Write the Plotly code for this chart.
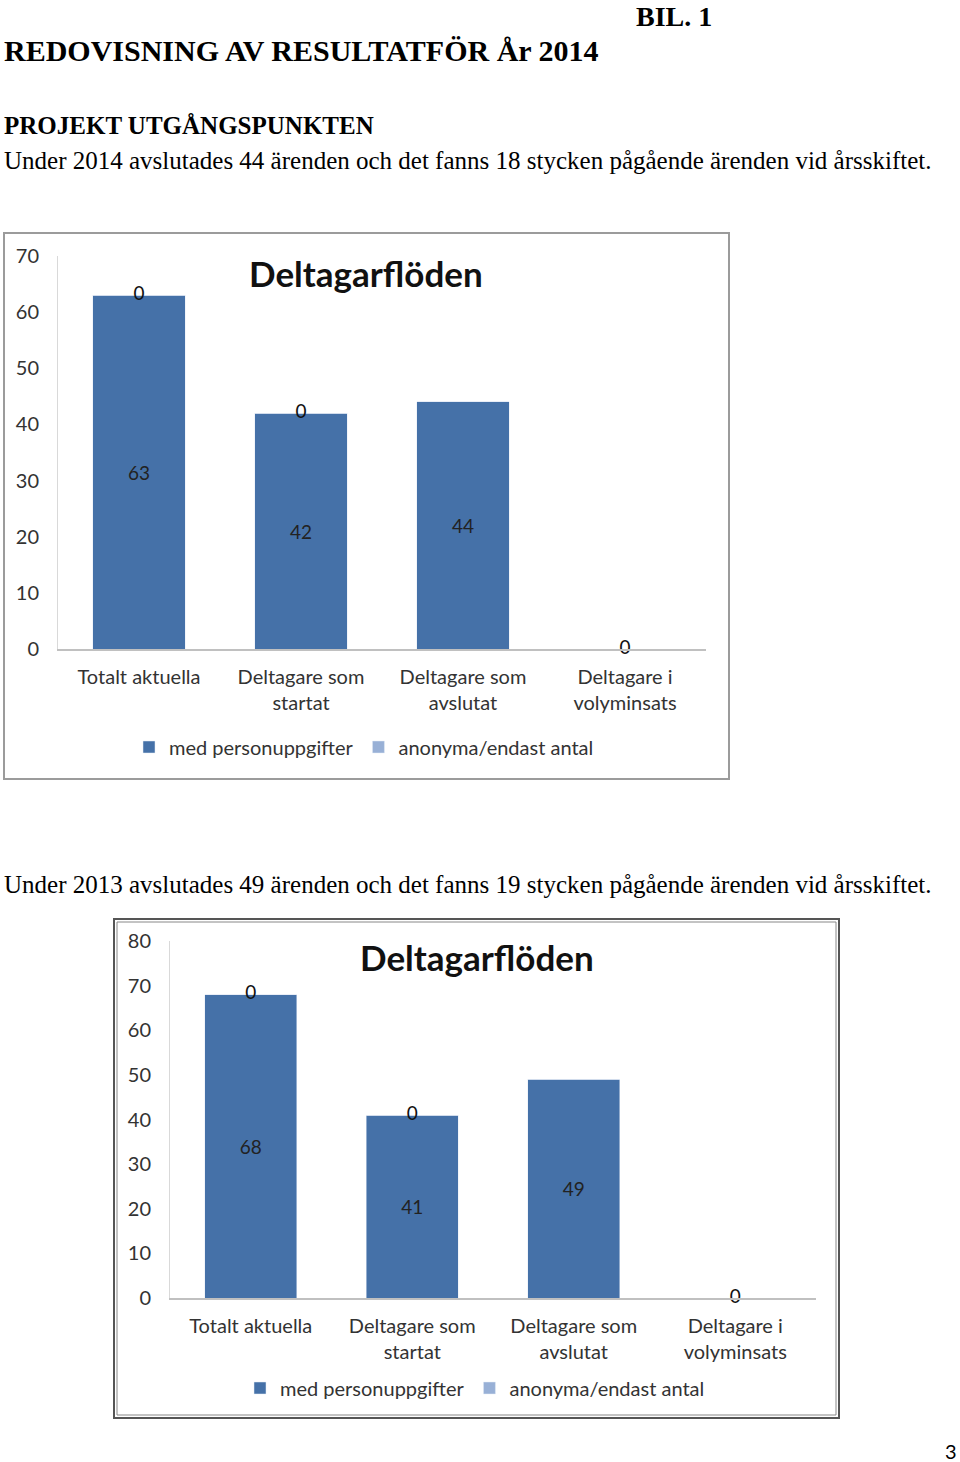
import plotly.graph_objects as go

W, H = 960, 1462

categories = ["Totalt aktuella", "Deltagare som<br>startat", "Deltagare som<br>avslutat", "Deltagare i<br>volyminsats"]
series_names = ["med personuppgifter", "anonyma/endast antal"]

# 2014
med_2014 = [63, 42, 44, 0]
anon_2014 = [0, 0, 0, 0]
med_text_2014 = ["63", "42", "44", ""]
anon_text_2014 = ["0", "0", "", "0"]

# 2013
med_2013 = [68, 41, 49, 0]
anon_2013 = [0, 0, 0, 0]
med_text_2013 = ["68", "41", "49", ""]
anon_text_2013 = ["0", "0", "", "0"]

DARK = "#4571a8"
LIGHT = "#98b0d6"
CHART_FONT = "Lato"
SERIF = "Liberation Serif"


def py(p):
    # pixel row from the top -> paper y
    return 1 - p / H


def px_x(p):
    return p / W


fig = go.Figure()


def add_chart(med, anon, med_text, anon_text, xa, ya, legend):
    fig.add_trace(go.Bar(x=categories, y=med, name=series_names[0], marker_color=DARK,
                         width=0.57, text=med_text, textposition="inside",
                         insidetextanchor="middle", textangle=0,
                         textfont=dict(family=CHART_FONT, size=19, color="#222"),
                         xaxis=xa, yaxis=ya, legend=legend))
    fig.add_trace(go.Bar(x=categories, y=anon, name=series_names[1], marker_color=LIGHT,
                         width=0.57, xaxis=xa, yaxis=ya, legend=legend))
    tops = [m + a for m, a in zip(med, anon)]
    fig.add_trace(go.Scatter(x=categories, y=tops, mode="text", text=anon_text,
                             textposition="middle center", cliponaxis=False,
                             textfont=dict(family=CHART_FONT, size=19, color="#111"),
                             showlegend=False, hoverinfo="skip", xaxis=xa, yaxis=ya))


add_chart(med_2014, anon_2014, med_text_2014, anon_text_2014, "x", "y", "legend")
add_chart(med_2013, anon_2013, med_text_2013, anon_text_2013, "x2", "y2", "legend2")

xcommon = dict(range=[-0.5, 3.5], showline=True, linecolor="#c0c0c0", linewidth=1.5,
               ticks="", showgrid=False, zeroline=False, automargin=False, ticklabelstandoff=9,
               tickfont=dict(family=CHART_FONT, size=20, color="#333"), fixedrange=True)
ycommon = dict(showline=True, linecolor="#d9d9d9", linewidth=1, ticks="", showgrid=False,
               zeroline=False, dtick=10, ticklabelstandoff=14, automargin=False,
               tickfont=dict(family=CHART_FONT, size=20, color="#333"))
legcommon = dict(orientation="h", xanchor="center", yanchor="middle", traceorder="normal",
                 font=dict(family=CHART_FONT, size=20, color="#333"), bgcolor="rgba(0,0,0,0)")

fig.update_layout(
    width=W, height=H, margin=dict(l=0, r=0, t=0, b=0, autoexpand=False),
    paper_bgcolor="white", plot_bgcolor="white", barmode="stack",
    xaxis=dict(domain=[px_x(58), px_x(706)], anchor="y", **xcommon),
    yaxis=dict(domain=[py(649), py(256)], range=[0, 70], anchor="x", **ycommon),
    xaxis2=dict(domain=[px_x(170), px_x(816)], anchor="y2", **xcommon),
    yaxis2=dict(domain=[py(1298), py(941)], range=[0, 80], anchor="x2", **ycommon),
    legend=dict(x=px_x(364), y=py(747), **legcommon),
    legend2=dict(x=px_x(475), y=py(1388), **legcommon),
    showlegend=True,
)

# chart frames
fig.add_shape(type="rect", xref="paper", yref="paper", x0=px_x(4), x1=px_x(729),
              y0=py(779), y1=py(233), line=dict(color="#9b9b9b", width=2))
fig.add_shape(type="rect", xref="paper", yref="paper", x0=px_x(114), x1=px_x(839),
              y0=py(1418), y1=py(919), line=dict(color="#555", width=2))
fig.add_shape(type="rect", xref="paper", yref="paper", x0=px_x(117), x1=px_x(836),
              y0=py(1415), y1=py(922), line=dict(color="#888", width=1))

texts = [
    ("BIL. 1", 634, 16, SERIF, 28, True, "left"),
    ("REDOVISNING AV RESULTATFÖR År 2014", 2, 51, SERIF, 30, True, "left"),
    ("PROJEKT UTGÅNGSPUNKTEN", 2, 125, SERIF, 25, True, "left"),
    ("Under 2014 avslutades 44 ärenden och det fanns 18 stycken pågående ärenden vid årsskiftet.",
     2, 160, SERIF, 25, False, "left"),
    ("Under 2013 avslutades 49 ärenden och det fanns 19 stycken pågående ärenden vid årsskiftet.",
     2, 884, SERIF, 25, False, "left"),
    ("3", 959, 1451, CHART_FONT, 20, False, "right"),
]
for t, x, y, fam, size, bold, anchor in texts:
    fig.add_annotation(text=f"<b>{t}</b>" if bold else t, xref="paper", yref="paper",
                       x=px_x(x), y=py(y), xanchor=anchor, yanchor="middle", showarrow=False,
                       font=dict(family=fam, size=size, color="#000"))

fig.add_annotation(text="<b>Deltagarflöden</b>", xref="paper", yref="paper", x=px_x(366), y=py(273),
                   xanchor="center", yanchor="middle", showarrow=False,
                   font=dict(family=CHART_FONT, size=35, color="#111"))
fig.add_annotation(text="<b>Deltagarflöden</b>", xref="paper", yref="paper", x=px_x(477), y=py(957),
                   xanchor="center", yanchor="middle", showarrow=False,
                   font=dict(family=CHART_FONT, size=35, color="#111"))

# drop the default page margin so the figure fills the window exactly
fig.write_html("out.html", config={"displayModeBar": False},
               post_script="document.body.style.margin = '0';")
